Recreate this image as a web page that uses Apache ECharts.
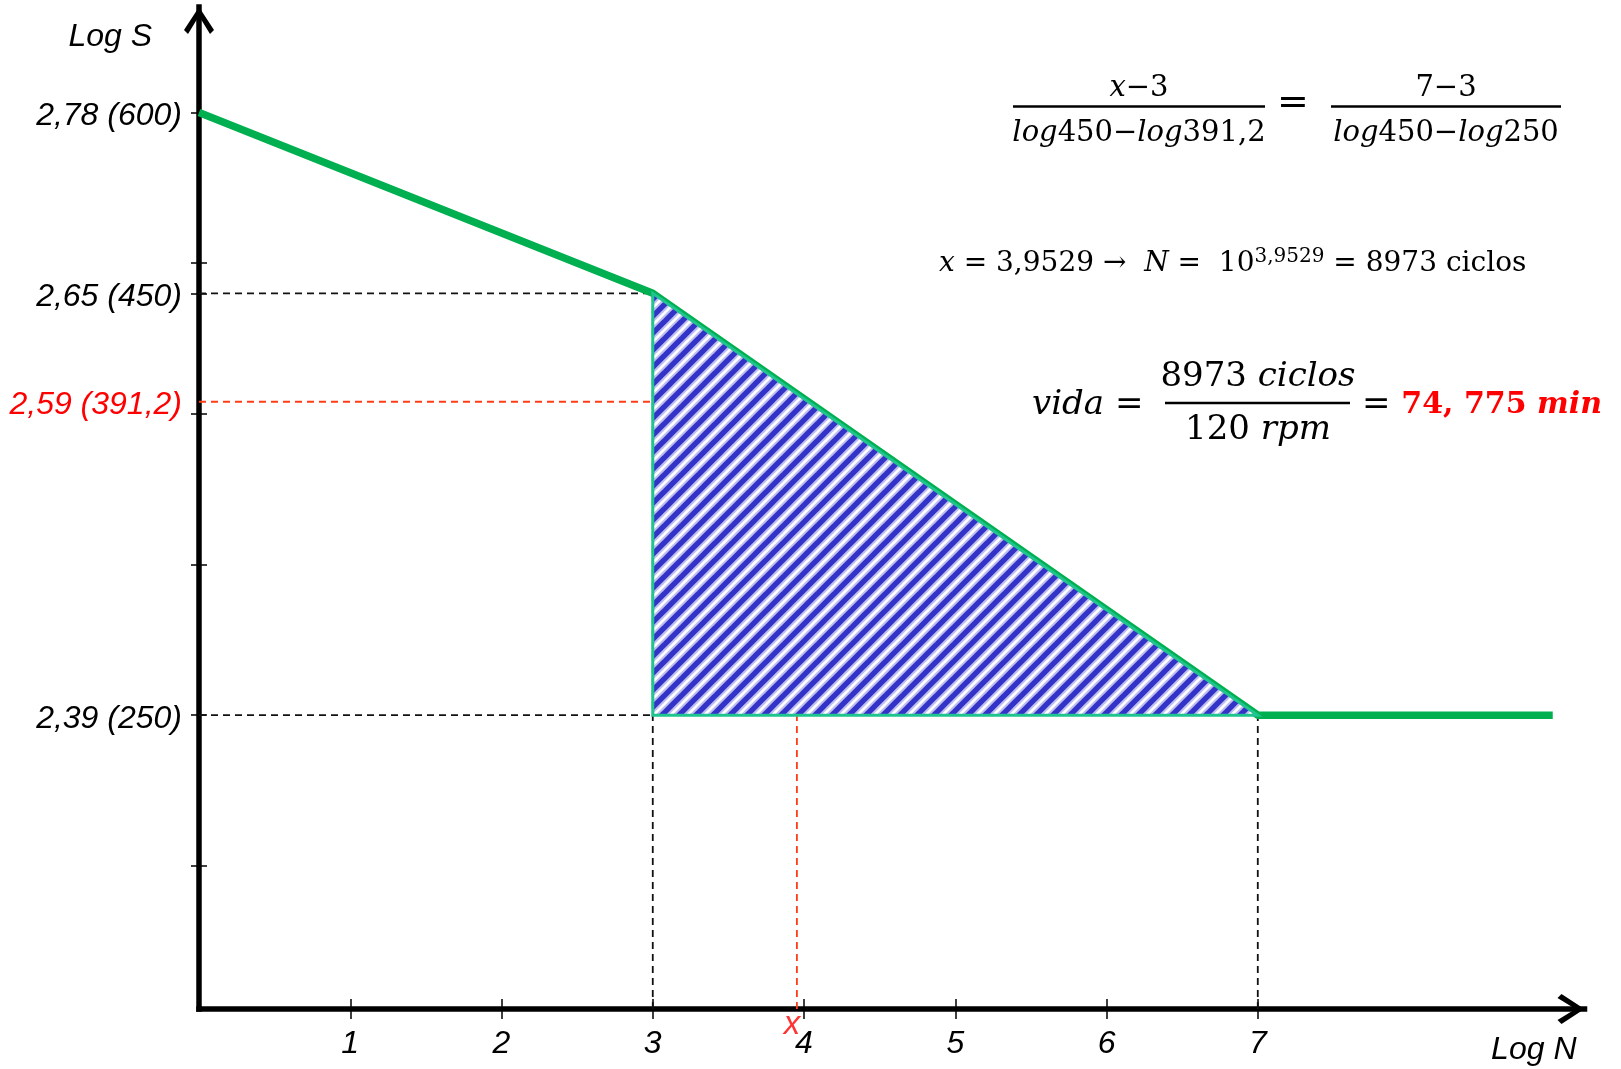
<!DOCTYPE html>
<html>
<head>
<meta charset="utf-8">
<title>Curva S-N</title>
<script src="https://cdn.jsdelivr.net/npm/echarts@6/dist/echarts.min.js"></script>
<style>
  html, body { margin: 0; padding: 0; background: #fff; }
  #chart { width: 1621px; height: 1069px; }
</style>
</head>
<body>
<div id="chart"></div>
<script>
// ---- data -------------------------------------------------------------
// S-N curve: log N against a schematic stress level on the vertical axis
const curveLogN  = [0, 3, 7, 8.95];
const curveLevel = [5, 3.8, 1, 1];

// stress levels marked on the vertical axis (log S and S in MPa)
const stressLevel = [5, 3.8, 3.08, 1];
const stressLabel = ['2,78 (600)', '2,65 (450)', '2,59 (391,2)', '2,39 (250)'];
const stressStyle = ['k', 'k', 'r', 'k'];

// tick positions
const levelTicks = [0, 1, 2, 3, 3.8, 4, 5];
const nTicks     = [1, 2, 3, 4, 5, 6, 7];

// interpolated life exponent x
const xLife = 3.9529;

// hatched damage region (log N, level)
const regionLogN  = [3, 3, 7];
const regionLevel = [3.8, 1, 1];

// ---- axes ranges ---------------------------------------------------------
const X_MIN = 0, X_MAX = 9.16;
const Y_MIN = -0.95, Y_MAX = 5.70;

const GREEN = '#00b050';
const TEAL = '#1fc48e';
const RED_DASH = '#ff3d17';
const AXIS_FONT = 'Liberation Sans';
const AXIS_SIZE = 32;
const MATH = 'DejaVu Serif';

// open chevron used as arrow head at the end of both axes
const CHEVRON = 'path://M15,0 L30,23 L26,27 L15,9 L4,27 L0,23 Z';

// diagonal blue hatch tile
function makeHatch() {
  const s = 17;
  const c = document.createElement('canvas');
  c.width = s; c.height = s;
  const g = c.getContext('2d');
  g.fillStyle = '#ffffff';
  g.fillRect(0, 0, s, s);
  const passes = [[9.5, 'rgba(70,70,215,0.35)'], [5.4, '#3333c8']];
  passes.forEach(function (p) {
    g.lineWidth = p[0];
    g.strokeStyle = p[1];
    for (let k = -1; k <= 1; k++) {
      g.beginPath();
      g.moveTo(k * s - 3, s + 3);
      g.lineTo(k * s + s + 3, -3);
      g.stroke();
    }
  });
  return c;
}
const hatchTile = makeHatch();

function nearestIndex(arr, v) {
  let best = 0;
  for (let i = 1; i < arr.length; i++) {
    if (Math.abs(arr[i] - v) < Math.abs(arr[best] - v)) best = i;
  }
  return best;
}

// ---- guide lines (dashed) -------------------------------------------------
const kneeN = curveLogN[1], kneeLv = curveLevel[1];
const limN = curveLogN[2], limLv = curveLevel[2];
const redLv = stressLevel[2];

const blackGuides = [
  [[X_MIN, kneeLv], [kneeN, kneeLv]],
  [[X_MIN, limLv], [limN, limLv]],
  [[kneeN, Y_MIN], [kneeN, kneeLv]],
  [[limN, Y_MIN], [limN, limLv]]
];
const redGuides = [
  [[X_MIN, redLv], [kneeN, redLv]],
  [[xLife, Y_MIN], [xLife, limLv]]
];

function guideSeries(seg, color) {
  return {
    type: 'line',
    data: seg,
    symbol: 'none',
    silent: true,
    clip: false,
    z: 1,
    lineStyle: { color: color, width: 1.8, type: [7, 5] }
  };
}

const series = [];
blackGuides.forEach(function (s) { series.push(guideSeries(s, '#111111')); });
redGuides.forEach(function (s) { series.push(guideSeries(s, RED_DASH)); });

// main S-N curve
series.push({
  type: 'line',
  data: curveLogN.map(function (n, i) { return [n, curveLevel[i]]; }),
  symbol: 'none',
  silent: true,
  z: 3,
  lineStyle: { color: GREEN, width: 7.5, join: 'round', cap: 'butt' }
});

// hatched region between knee and endurance limit
series.push({
  type: 'custom',
  coordinateSystem: 'cartesian2d',
  data: [[regionLogN[0], regionLevel[0]]],
  silent: true,
  clip: false,
  z: 4,
  renderItem: function (params, api) {
    const pts = regionLogN.map(function (n, i) { return api.coord([n, regionLevel[i]]); });
    return {
      type: 'polygon',
      shape: { points: pts },
      style: {
        fill: { image: hatchTile, repeat: 'repeat' },
        stroke: TEAL,
        lineWidth: 3,
        lineJoin: 'miter'
      }
    };
  }
});

// red "x" under the horizontal axis
series.push({
  type: 'scatter',
  data: [[xLife, Y_MIN]],
  symbolSize: 0,
  silent: true,
  clip: false,
  z: 5,
  label: {
    show: true,
    position: 'inside',
    offset: [-5, 16],
    formatter: 'x',
    color: '#ff0000',
    fontFamily: AXIS_FONT,
    fontStyle: 'italic',
    fontSize: 33
  }
});

// ---- formulas ---------------------------------------------------------
function richSet(size) {
  const red = Math.round(size * 0.89);
  return {
    n: { fontFamily: MATH, fontSize: size, fill: '#000', lineHeight: size + 6 },
    i: { fontFamily: MATH, fontSize: size, fontStyle: 'italic', fill: '#000', lineHeight: size + 6 },
    s: { fontFamily: MATH, fontSize: Math.round(size * 0.72), fill: '#000', verticalAlign: 'top', lineHeight: Math.round(size * 0.72) },
    r: { fontFamily: MATH, fontSize: red, fontWeight: 'bold', fill: '#ff0000', lineHeight: size + 6 },
    ri: { fontFamily: MATH, fontSize: red, fontWeight: 'bold', fontStyle: 'italic', fill: '#ff0000', lineHeight: size + 6 }
  };
}
function mathText(x, y, text, size, align) {
  return {
    type: 'text',
    x: x, y: y,
    silent: true,
    z: 10,
    style: {
      text: text,
      fontFamily: MATH,
      fontSize: size,
      fill: '#000',
      align: align || 'center',
      verticalAlign: 'middle',
      rich: richSet(size)
    }
  };
}
function bar(x1, x2, y) {
  return {
    type: 'line',
    silent: true,
    z: 10,
    shape: { x1: x1, y1: y, x2: x2, y2: y },
    style: { stroke: '#000', lineWidth: 2.5 }
  };
}

const F1 = 29, F2 = 28, F3 = 34;
const graphic = [
  // (x-3)/(log450-log391,2) = (7-3)/(log450-log250)
  mathText(1139, 88, '{i|x}{n|−3}', F1),
  bar(1013, 1265, 106.5),
  mathText(1139, 133, '{i|log}{n|450−}{i|log}{n|391,2}', F1),
  mathText(1293, 104, '{n|=}', 38),
  mathText(1446, 88, '{n|7−3}', F1),
  bar(1331, 1561, 106.5),
  mathText(1446, 133, '{i|log}{n|450−}{i|log}{n|250}', F1),

  // x = 3,9529 -> N = 10^3,9529 = 8973 ciclos
  mathText(939, 264, '{i|x}{n| = 3,9529 →  }{i|N}{n| =  10}{s|3,9529}{n| = 8973 ciclos}', F2, 'left'),

  // vida = 8973 ciclos / 120 rpm = 74,775 min
  mathText(1032, 405, '{i|vida}{n| =}', F3, 'left'),
  mathText(1258, 377, '{n|8973 }{i|ciclos}', F3),
  bar(1165, 1350, 403),
  mathText(1258, 430, '{n|120 }{i|rpm}', F3),
  mathText(1362, 405, '{n|= }{r|74, 775 }{ri|min}', F3, 'left')
];

// ---- chart -----------------------------------------------------------
const chart = echarts.init(document.getElementById('chart'), null, { renderer: 'canvas' });

const yLabelRich = {
  k: { color: '#000000', fontFamily: AXIS_FONT, fontStyle: 'italic', fontSize: AXIS_SIZE, padding: [7, 0, 0, 0] },
  r: { color: '#ff0000', fontFamily: AXIS_FONT, fontStyle: 'italic', fontSize: AXIS_SIZE, padding: [7, 0, 0, 0] }
};

const option = {
  animation: false,
  backgroundColor: '#ffffff',
  grid: {
    left: 199,
    top: 7,
    width: 1385.5,
    bottom: 60,
    containLabel: false,
    outerBoundsMode: 'none'
  },
  xAxis: [
    {
      type: 'value',
      min: X_MIN,
      max: X_MAX,
      position: 'bottom',
      name: 'Log N',
      nameLocation: 'end',
      nameGap: -8,
      nameMoveOverlap: false,
      nameTextStyle: {
        fontFamily: AXIS_FONT, fontStyle: 'italic', fontSize: AXIS_SIZE, color: '#000',
        align: 'right', verticalAlign: 'top', padding: [25, 0, 0, 0]
      },
      axisLine: {
        show: true, onZero: false,
        lineStyle: { color: '#000', width: 5.5, cap: 'square' },
        symbol: ['none', CHEVRON],
        symbolSize: [30, 27],
        symbolOffset: [0, -13.5]
      },
      axisTick: {
        show: true, length: 10, customValues: nTicks,
        lineStyle: { color: '#000', width: 1.5 }
      },
      axisLabel: {
        show: true, customValues: nTicks, margin: 19,
        formatter: function (v) { return String(nTicks[nearestIndex(nTicks, v)]); },
        fontFamily: AXIS_FONT, fontStyle: 'italic', fontSize: AXIS_SIZE, color: '#000'
      },
      splitLine: { show: false }
    },
    {
      // second copy of the axis only to draw the inner half of each tick
      type: 'value',
      min: X_MIN,
      max: X_MAX,
      position: 'bottom',
      axisLine: { show: false, onZero: false },
      axisTick: {
        show: true, inside: true, length: 10, customValues: nTicks,
        lineStyle: { color: '#000', width: 1.5 }
      },
      axisLabel: { show: false },
      splitLine: { show: false }
    }
  ],
  yAxis: [
    {
      type: 'value',
      min: Y_MIN,
      max: Y_MAX,
      position: 'left',
      name: 'Log S',
      nameLocation: 'end',
      nameGap: -30,
      nameMoveOverlap: false,
      nameTextStyle: {
        fontFamily: AXIS_FONT, fontStyle: 'italic', fontSize: AXIS_SIZE, color: '#000',
        align: 'right', verticalAlign: 'middle', padding: [0, 47, 0, 0]
      },
      axisLine: {
        show: true, onZero: false,
        lineStyle: { color: '#000', width: 5.5, cap: 'square' },
        symbol: ['none', CHEVRON],
        symbolSize: [30, 27],
        symbolOffset: [0, -13.5]
      },
      axisTick: {
        show: true, length: 8, customValues: levelTicks,
        lineStyle: { color: '#000', width: 1.5 }
      },
      axisLabel: {
        show: true, customValues: stressLevel, margin: 17,
        formatter: function (v) {
          const i = nearestIndex(stressLevel, v);
          return '{' + stressStyle[i] + '|' + stressLabel[i] + '}';
        },
        rich: yLabelRich,
        fontFamily: AXIS_FONT, fontStyle: 'italic', fontSize: AXIS_SIZE
      },
      splitLine: { show: false }
    },
    {
      type: 'value',
      min: Y_MIN,
      max: Y_MAX,
      position: 'left',
      axisLine: { show: false, onZero: false },
      axisTick: {
        show: true, inside: true, length: 8, customValues: levelTicks,
        lineStyle: { color: '#000', width: 1.5 }
      },
      axisLabel: { show: false },
      splitLine: { show: false }
    }
  ],
  series: series,
  graphic: graphic
};

chart.setOption(option);
</script>
</body>
</html>
